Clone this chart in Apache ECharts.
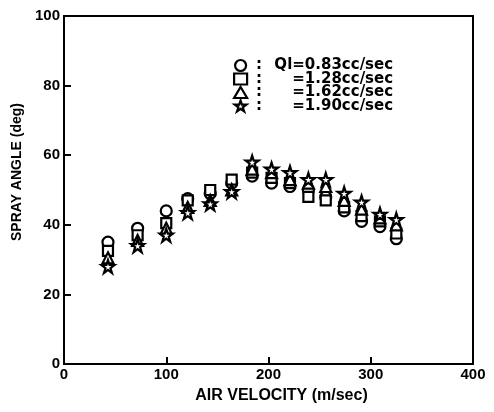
<!DOCTYPE html>
<html>
<head>
<meta charset="utf-8">
<script src="https://cdn.jsdelivr.net/npm/echarts@6/dist/echarts.min.js"></script>
<style>
  html, body { margin: 0; padding: 0; background: #fff; }
  #chart { width: 494px; height: 412px; }
</style>
</head>
<body>
<div id="chart"></div>
<script>
// Air velocity (m/sec) at each measurement
var airVelocity = [43, 72, 100, 121, 143, 164, 184, 203, 221, 239, 256, 274, 291, 309, 325];

// Spray angle (deg) for each liquid flow rate
var angleQ083 = [35, 39, 44, 47.5, 49, 52, 54, 52, 51, 50, 48, 44, 41, 39.5, 36];
var angleQ128 = [32.5, 37, 40.5, 47, 50, 53, 55, 53.5, 52, 48, 47, 45, 42.5, 41, 37.5];
var angleQ162 = [30.5, 35.5, 39, 45, 47, 50, 56, 55, 53, 52, 51, 47, 44.5, 42, 40];
var angleQ190 = [28, 34, 37, 43.5, 46, 49.5, 58, 56, 55, 53, 53, 49, 46.5, 43, 41.5];

var seriesNames = ['Ql=0.83cc/sec', '=1.28cc/sec', '=1.62cc/sec', '=1.90cc/sec'];
var xTicks = [0, 100, 200, 300, 400];
var yTicks = [0, 20, 40, 60, 80, 100];

var STAR = 'path://M50,0 L61.8,36.2 L100,36.2 L69.1,58.6 L80.9,95.1 L50,72.7 L19.1,95.1 L30.9,58.6 L0,36.2 L38.2,36.2 Z';
var symbols = ['circle', 'rect', 'triangle', STAR];
var sizes = [11, 10, 11, 13];

var FONT = '"Liberation Sans", Arial, sans-serif';
var WIDE = '"DejaVu Sans", sans-serif';

function pairs(ys) {
  return airVelocity.map(function (x, i) { return [x, ys[i]]; });
}

var allAngles = [angleQ083, angleQ128, angleQ162, angleQ190];

var series = allAngles.map(function (ys, k) {
  return {
    name: seriesNames[k],
    type: 'scatter',
    data: pairs(ys),
    symbol: symbols[k],
    symbolSize: sizes[k],
    itemStyle: { color: '#fff', borderColor: '#000', borderWidth: 2.2, opacity: 1 },
    z: 2 + k
  };
});

var chart = echarts.init(document.getElementById('chart'), null, { renderer: 'canvas' });
chart.setOption({
  animation: false,
  backgroundColor: '#fff',
  textStyle: { fontFamily: FONT },
  grid: {
    left: 64, right: 21, top: 16, bottom: 48,
    show: true, borderColor: '#000', borderWidth: 2, backgroundColor: 'transparent'
  },
  legend: {
    orient: 'vertical',
    left: 233, top: 58,
    padding: 0,
    itemWidth: 13, itemHeight: 11, itemGap: -1.5,
    selectedMode: false,
    itemStyle: { color: '#fff', borderColor: '#000', borderWidth: 2.2 },
    data: seriesNames.map(function (n, k) { return { name: n, icon: symbols[k] }; }),
    formatter: function (name) {
      return '{c|:}{t|' + name + '}';
    },
    textStyle: {
      fontFamily: WIDE, fontWeight: 'bold', fontSize: 15, lineHeight: 12, color: '#000',
      rich: {
        c: { fontFamily: WIDE, fontWeight: 'bold', fontSize: 15, lineHeight: 12, color: '#000', width: 14, align: 'center' },
        t: { fontFamily: WIDE, fontWeight: 'bold', fontSize: 15, lineHeight: 12, color: '#000', width: 127, align: 'right' }
      }
    }
  },
  xAxis: {
    type: 'value',
    min: xTicks[0], max: xTicks[xTicks.length - 1], interval: 100,
    name: 'AIR VELOCITY (m/sec)',
    nameLocation: 'middle', nameGap: 24,
    nameTextStyle: { fontFamily: FONT, fontWeight: 'bold', fontSize: 16, color: '#000', padding: [0, 0, 0, 26] },
    axisLine: { lineStyle: { color: '#000', width: 2 } },
    axisTick: { inside: true, length: 7, lineStyle: { color: '#000', width: 2 } },
    axisLabel: { fontFamily: FONT, fontWeight: 'bold', fontSize: 15, color: '#000', margin: 3 },
    splitLine: { show: false }
  },
  yAxis: {
    type: 'value',
    min: yTicks[0], max: yTicks[yTicks.length - 1], interval: 20,
    name: 'SPRAY ANGLE (deg)',
    nameLocation: 'middle', nameGap: 32,
    nameTextStyle: { fontFamily: FONT, fontWeight: 'bold', fontSize: 14, color: '#000', padding: [0, 0, 0, 36] },
    axisLine: { lineStyle: { color: '#000', width: 2 } },
    axisTick: { inside: true, length: 7, lineStyle: { color: '#000', width: 2 } },
    axisLabel: { fontFamily: FONT, fontWeight: 'bold', fontSize: 15, color: '#000', margin: 4 },
    splitLine: { show: false }
  },
  series: series
});
</script>
</body>
</html>
